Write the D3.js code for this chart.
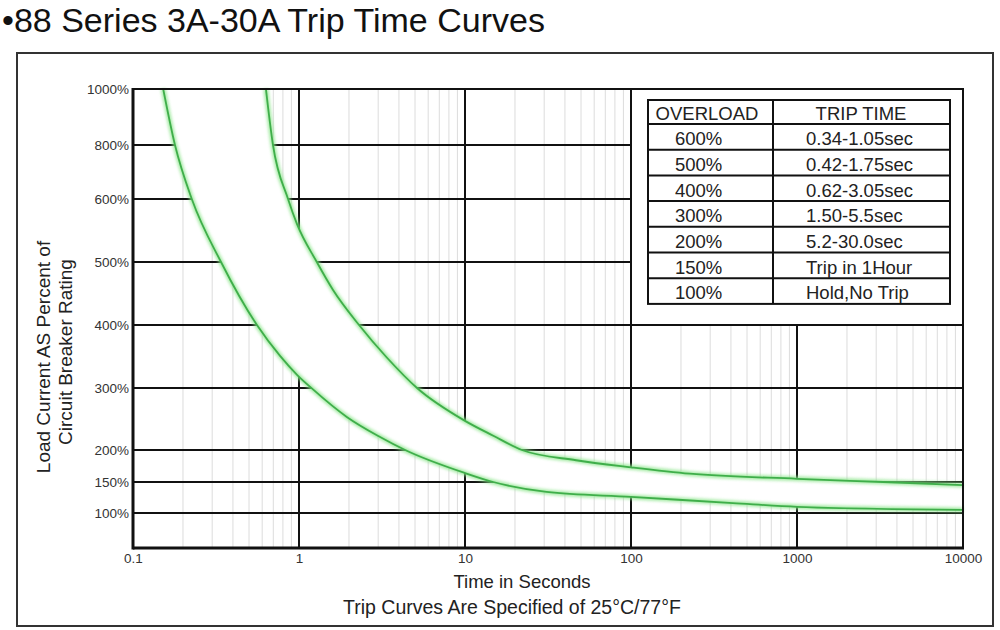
<!DOCTYPE html>
<html>
<head>
<meta charset="utf-8">
<script src="https://cdn.jsdelivr.net/npm/d3@7"></script>
<style>
  body { margin: 0; background: #fff; }
  svg { font-family: "Liberation Sans", Arial, sans-serif; display: block; }
  .tick text { fill: #333; font-size: 13.5px; }
</style>
</head>
<body>
<svg id="chart" width="1000" height="630"></svg>
<script>
// x axis decades (seconds) and y axis ticks (% of rating)
const xTicks = [0.1, 1, 10, 100, 1000, 10000];
const yTicks = [100, 150, 200, 300, 400, 500, 600, 800, 1000];

// [time in s, load %]
const minCurve = [
  [0.152, 1000], [0.179, 800], [0.226, 600], [0.339, 500], [0.558, 400],
  [0.769, 351], [0.973, 321], [1.2, 299], [1.95, 253], [3.08, 221], [4.36, 200],
  [10, 164], [14.8, 150], [31, 134], [100, 126], [411, 116], [1000, 110], [10000, 105]
];
const maxCurve = [
  [0.632, 1000], [0.697, 800], [0.859, 600], [0.973, 560], [1.28, 500],
  [1.6, 456], [2.3, 400], [3.39, 348], [5.14, 300], [10, 247], [14.8, 223],
  [22, 200], [46.7, 184], [100, 173], [226, 163], [1000, 155], [3300, 150], [10000, 145]
];

// table
const overload = ["600%", "500%", "400%", "300%", "200%", "150%", "100%"];
const tripTime = ["0.34-1.05sec", "0.42-1.75sec", "0.62-3.05sec", "1.50-5.5sec",
                  "5.2-30.0sec", "Trip in 1Hour", "Hold,No Trip"];

const svg = d3.select("#chart");
const pLeft = 133, pRight = 963, pTop = 89, pBottom = 548;

const x = d3.scaleLog().domain([0.1, 10000]).range([pLeft, pRight]);
// the chart's y axis is not log or linear: piecewise steps between the ticks
const y = d3.scaleLinear()
  .domain(yTicks)
  .range([513, 482, 450, 388, 325, 262, 199, 145, 89]);

// outer frame
svg.append("rect")
  .attr("x", 17).attr("y", 53).attr("width", 976).attr("height", 573)
  .attr("fill", "none").attr("stroke", "#333").attr("stroke-width", 2);

// title
svg.append("text")
  .attr("x", 2).attr("y", 32)
  .attr("font-size", 34).attr("fill", "#111")
  .text("\u202288 Series 3A-30A Trip Time Curves");

const grid = svg.append("g");

// minor vertical grid
const minor = [];
xTicks.slice(0, -1).forEach(d => {
  for (let k = 2; k <= 9; k++) minor.push(d * k);
});
grid.selectAll("line.minor")
  .data(minor)
  .enter().append("line")
  .attr("class", "minor")
  .attr("x1", d => x(d)).attr("x2", d => x(d))
  .attr("y1", pTop).attr("y2", pBottom)
  .attr("stroke", "#dcdcdc").attr("stroke-width", 1);

// major grid
grid.selectAll("line.vmajor")
  .data(xTicks)
  .enter().append("line")
  .attr("class", "vmajor")
  .attr("x1", d => x(d)).attr("x2", d => x(d))
  .attr("y1", pTop).attr("y2", pBottom)
  .attr("stroke", "#111").attr("stroke-width", 2);

grid.selectAll("line.hmajor")
  .data(yTicks)
  .enter().append("line")
  .attr("class", "hmajor")
  .attr("x1", pLeft).attr("x2", pRight)
  .attr("y1", d => y(d)).attr("y2", d => y(d))
  .attr("stroke", "#111").attr("stroke-width", 2);

// band between the curves
const line = d3.line()
  .x(d => x(d[0]))
  .y(d => y(d[1]))
  .curve(d3.curveMonotoneX);

const band = line(maxCurve) + "L" + line(minCurve.slice().reverse()).slice(1) + "Z";
svg.append("path").attr("d", band).attr("fill", "#fff");

// glow
const defs = svg.append("defs");
defs.append("filter").attr("id", "glow")
  .attr("x", "-5%").attr("y", "-5%").attr("width", "110%").attr("height", "110%")
  .append("feGaussianBlur").attr("stdDeviation", 1.4);

[minCurve, maxCurve].forEach(c => {
  svg.append("path").attr("d", line(c))
    .attr("fill", "none").attr("stroke", "#8be58a").attr("stroke-width", 5)
    .attr("opacity", 0.75).attr("filter", "url(#glow)");
  svg.append("path").attr("d", line(c))
    .attr("fill", "none").attr("stroke", "#3fae4a").attr("stroke-width", 1.8);
});

// table box
svg.append("rect")
  .attr("x", 631).attr("y", pTop).attr("width", pRight - 631).attr("height", y(400) - pTop)
  .attr("fill", "#fff").attr("stroke", "#111").attr("stroke-width", 2);

// plot frame
svg.append("rect")
  .attr("x", pLeft).attr("y", pTop).attr("width", pRight - pLeft).attr("height", pBottom - pTop)
  .attr("fill", "none").attr("stroke", "#111").attr("stroke-width", 2);
svg.append("line")
  .attr("x1", pLeft).attr("x2", pLeft).attr("y1", pTop - 1).attr("y2", pBottom + 1.5)
  .attr("stroke", "#111").attr("stroke-width", 3);
svg.append("line")
  .attr("x1", pLeft).attr("x2", pRight + 1).attr("y1", pBottom).attr("y2", pBottom)
  .attr("stroke", "#111").attr("stroke-width", 3);

// table
const tx0 = 648, tx1 = 950, tcol = 773, ttop = 100, headH = 24, rowH = 25.7;
const table = svg.append("g");
const rowsTop = ttop + headH;
const tbottom = rowsTop + rowH * overload.length;

table.append("rect")
  .attr("x", tx0).attr("y", ttop).attr("width", tx1 - tx0).attr("height", tbottom - ttop)
  .attr("fill", "none").attr("stroke", "#111").attr("stroke-width", 2);
table.append("line")
  .attr("x1", tcol).attr("x2", tcol).attr("y1", ttop).attr("y2", tbottom)
  .attr("stroke", "#111").attr("stroke-width", 2);
table.selectAll("line.row")
  .data(overload)
  .enter().append("line")
  .attr("class", "row")
  .attr("x1", tx0).attr("x2", tx1)
  .attr("y1", (d, i) => rowsTop + i * rowH).attr("y2", (d, i) => rowsTop + i * rowH)
  .attr("stroke", "#111").attr("stroke-width", 2);

table.append("text").attr("x", 707).attr("y", ttop + headH - 4)
  .attr("text-anchor", "middle").attr("font-size", 18.5).attr("fill", "#222")
  .text("OVERLOAD");
table.append("text").attr("x", 861).attr("y", ttop + headH - 4)
  .attr("text-anchor", "middle").attr("font-size", 18.5).attr("fill", "#222")
  .text("TRIP TIME");

table.selectAll("text.ov")
  .data(overload)
  .enter().append("text")
  .attr("class", "ov")
  .attr("x", 675).attr("y", (d, i) => rowsTop + (i + 1) * rowH - 4.5)
  .attr("font-size", 18.5).attr("fill", "#222")
  .text(d => d);
table.selectAll("text.tt")
  .data(tripTime)
  .enter().append("text")
  .attr("class", "tt")
  .attr("x", 806).attr("y", (d, i) => rowsTop + (i + 1) * rowH - 4.5)
  .attr("font-size", 18.5).attr("fill", "#222")
  .text(d => d);

// axes
const xAxis = d3.axisBottom(x).tickValues(xTicks).tickSize(0).tickPadding(5)
  .tickFormat(d3.format("~g"));
svg.append("g").attr("transform", `translate(0,${pBottom})`).call(xAxis)
  .call(g => g.select(".domain").remove());

const yAxis = d3.axisLeft(y).tickValues(yTicks).tickSize(0).tickPadding(4)
  .tickFormat(d => d + "%");
svg.append("g").attr("transform", `translate(${pLeft},0)`).call(yAxis)
  .call(g => g.select(".domain").remove());

svg.selectAll(".tick text").attr("font-family", "'Liberation Sans', Arial, sans-serif");

// axis titles
svg.append("text")
  .attr("transform", "translate(50,357) rotate(-90)")
  .attr("text-anchor", "middle").attr("font-size", 19).attr("fill", "#222")
  .text("Load Current AS Percent of");
svg.append("text")
  .attr("transform", "translate(72,352) rotate(-90)")
  .attr("text-anchor", "middle").attr("font-size", 19).attr("fill", "#222")
  .text("Circuit Breaker Rating");

svg.append("text")
  .attr("x", 522).attr("y", 588)
  .attr("text-anchor", "middle").attr("font-size", 18.5).attr("fill", "#222")
  .text("Time in Seconds");
svg.append("text")
  .attr("x", 512).attr("y", 614)
  .attr("text-anchor", "middle").attr("font-size", 19.5).attr("fill", "#222")
  .text("Trip Curves Are Specified of 25\u00B0C/77\u00B0F");
</script>
</body>
</html>
